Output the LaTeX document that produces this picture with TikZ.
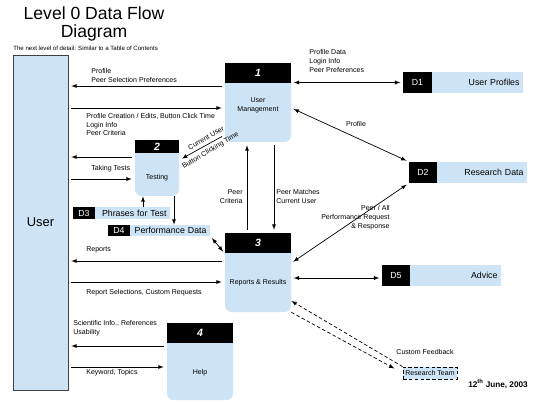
\documentclass[tikz,border=0pt]{standalone}
\usepackage{fontspec}
\setmainfont{Liberation Sans}
\usetikzlibrary{arrows}
\definecolor{lblue}{RGB}{205,228,246}
\newcommand{\lab}{\fontsize{6}{7.6}\selectfont}
\tikzstyle{proc} = [fill=lblue,rounded corners=0.2cm,inner sep=0pt]
\tikzstyle{phead} = [fill=black,text=white,inner sep=0pt,font=\fontsize{9}{10}\selectfont\bfseries\itshape]
\tikzstyle{dnum} = [fill=black,text=white,inner sep=0pt,font=\fontsize{7.5}{9}\selectfont]
\tikzstyle{dbox} = [fill=lblue,inner xsep=3pt,inner ysep=0pt,align=right,font=\fontsize{7.5}{9}\selectfont]
\tikzstyle{lbl} = [inner sep=0pt,align=left,font=\lab]
\tikzstyle{flow} = [->,shorten >=2.5pt,shorten <=2.5pt]
\tikzstyle{twoway} = [<->,shorten >=2pt,shorten <=2pt]

\begin{document}
\begin{tikzpicture}[x=0.03cm,y=-0.03cm,>=latex,line width=0.6pt]
	\useasboundingbox (0,0) rectangle (538,403);
	
	\node [align=center,font=\fontsize{15}{15.5}\selectfont] (title) at (94,24) {Level 0 Data Flow\\Diagram};
	\node [anchor=west,inner sep=0pt,font=\fontsize{5.2}{6}\selectfont] (sub) at (13,48) {The next level of detail: Similar to a Table of Contents};
	\node [draw=darkgray,fill=lblue,minimum width=1.65cm,minimum height=10.05cm,inner sep=0pt,font=\fontsize{11}{13}\selectfont] (user) at (40.5,222.5) {User};
	%%%%%%%%%%%%%%%
	\node [proc,minimum width=1.98cm,minimum height=2.37cm] (p1) at (258,102.5) {};
	\node [phead,minimum width=1.98cm,minimum height=0.6cm] (p1h) at (258,73) {1};
	\node [lbl,align=center] (p1t) at (258,105.5) {User\\Management};
	%%%%%%%%%%%%%%%
	\node [proc,minimum width=1.32cm,minimum height=1.68cm] (p2) at (157,168) {};
	\node [phead,minimum width=1.32cm,minimum height=0.39cm] (p2h) at (157,146.5) {2};
	\node [lbl] (p2t) at (157,178) {Testing};
	%%%%%%%%%%%%%%%
	\node [proc,minimum width=1.98cm,minimum height=2.37cm] (p3) at (258,272.5) {};
	\node [phead,minimum width=1.98cm,minimum height=0.6cm] (p3h) at (258,243) {3};
	\node [lbl] (p3t) at (258,283) {Reports \& Results};
	%%%%%%%%%%%%%%%
	\node [proc,minimum width=1.98cm,minimum height=2.31cm] (p4) at (200,361.5) {};
	\node [phead,minimum width=1.98cm,minimum height=0.6cm] (p4h) at (200,333) {4};
	\node [lbl] (p4t) at (200,373) {Help};
	%%%%%%%%%%%%%%%
	\node [dnum,minimum width=0.87cm,minimum height=0.63cm] (d1) at (417.5,82.5) {D1};
	\node [dbox,text width=2.52cm,minimum height=0.63cm] (d1b) at (477.5,82.5) {User Profiles};
	\node [dnum,minimum width=0.84cm,minimum height=0.63cm] (d2) at (423,172.5) {D2};
	\node [dbox,text width=2.49cm,minimum height=0.63cm] (d2b) at (482,172.5) {Research Data};
	\node [dnum,minimum width=0.66cm,minimum height=0.36cm] (d3) at (84,213) {D3};
	\node [dbox,text width=2.04cm,minimum height=0.36cm] (d3b) at (132.5,213) {Phrases for Test};
	\node [dnum,minimum width=0.66cm,minimum height=0.33cm] (d4) at (119,230.5) {D4};
	\node [dbox,text width=2.19cm,minimum height=0.33cm] (d4b) at (170,230.5) {Performance Data};
	\node [dnum,minimum width=0.84cm,minimum height=0.63cm] (d5) at (396,275.5) {D5};
	\node [dbox,text width=2.52cm,minimum height=0.63cm] (d5b) at (455.5,275.5) {Advice};
	\node [draw,densely dashed,fill=lblue,minimum width=1.62cm,minimum height=0.36cm,inner sep=0pt,font=\lab] (rt) at (430,373) {Research Team};
	%%%%%%%%%%%%%%%
	\draw [flow] (p1.west |- 0,86) -- (user.east |- 0,86);
	\draw [flow] (user.east |- 0,108) -- (p1.west |- 0,108);
	\draw [twoway] (p1.east |- d1.west) -- (d1.west);
	\draw [twoway] (p1.east |- 0,108) -- (d2.north west);
	\draw [flow] (p1.west |- 0,135) -- (p2.east |- 0,160);
	\draw [flow] (p1.south -| 274,0) -- (p3h.north -| 274,0);
	\draw [flow] (p3h.north -| 247,0) -- (p1.south -| 247,0);
	\node [lbl,anchor=west] (l1) at (91,75.5) {Profile\\Peer Selection Preferences};
	\node [lbl,anchor=west] (l2) at (86,124.5) {Profile Creation / Edits, Button Click Time\\Login Info\\Peer Criteria};
	\node [lbl,anchor=west] (l3) at (309,61) {Profile Data\\Login Info\\Peer Preferences};
	\node [lbl] (l4) at (356,124) {Profile};
	\node [lbl,rotate=30.6] (l5) at (206,138) {Current User};
	\node [lbl,rotate=30.6] (l6) at (210.5,150.5) {Button Clicking Time};
	\node [lbl,anchor=east,align=right] (l8) at (243,196.5) {Peer\\Criteria};
	\node [lbl,anchor=west] (l9) at (276,196.5) {Peer Matches\\Current User};
	%----
	\draw [flow] (p2.west |- 0,157) -- (user.east |- 0,157);
	\draw [flow] (user.east |- 0,179) -- (p2.west |- 0,179);
	\draw [->] (d3b.north -| 143,0) -- (p2.south -| 143,0);
	\draw [->] (p2.south -| 174,0) -- (d4b.north -| 174,0);
	\node [lbl,anchor=west] (l7) at (91,169) {Taking Tests};
	%----
	\draw [twoway] (d4b.south east) -- (p3h.south west);
	\draw [twoway] (d2.south west) -- (p3.east |- 0,263);
	\draw [twoway] (p3.east |- 0,278) -- (d5.west |- 0,278);
	\draw [flow] (p3.west |- 0,261) -- (user.east |- 0,261);
	\draw [flow] (user.east |- 0,282) -- (p3.west |- 0,282);
	\draw [->,densely dashed] (rt.north west) -- (p3.east |- 0,301);
	\draw [->,densely dashed,shorten >=8pt] (p3.south east) -- (rt.west);
	\node [lbl,anchor=east,align=right] (l10) at (390,218) {Peer / All\\Performance Request\\\& Response};
	\node [lbl,anchor=west] (l11) at (86,250) {Reports};
	\node [lbl,anchor=west] (l12) at (86,293) {Report Selections, Custom Requests};
	\node [lbl] (l15) at (425,352) {Custom Feedback};
	%----
	\draw [flow] (p4.west |- 0,346) -- (user.east |- 0,346);
	\draw [flow] (user.east |- 0,367) -- (p4.west |- 0,367);
	\node [lbl,anchor=west] (l13) at (73,328.5) {Scientific Info., References\\Usability};
	\node [lbl,anchor=west] (l14) at (86,373) {Keyword, Topics};
	
	\node [font=\fontsize{7}{8}\selectfont\bfseries] (date) at (498,384) {12\textsuperscript{th} June, 2003};
	
\end{tikzpicture}
\end{document}
